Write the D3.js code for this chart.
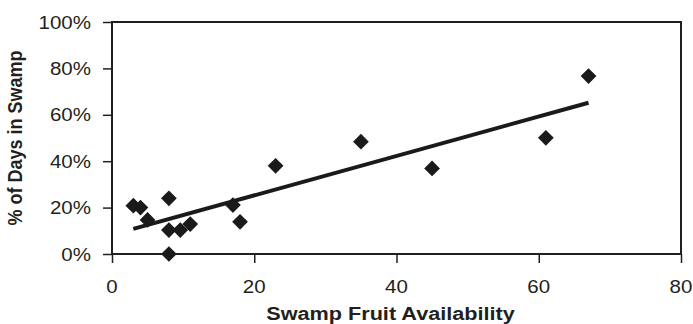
<!DOCTYPE html>
<html>
<head>
<meta charset="utf-8">
<script src="https://cdn.jsdelivr.net/npm/d3@7"></script>
<style>
  html, body { margin: 0; padding: 0; background: #fff; }
  svg { display: block; }
  text { font-family: "Liberation Sans", Arial, sans-serif; fill: #231f20; }
</style>
</head>
<body>
<div id="chart"></div>
<script>
// fruit availability (x) and share of days spent in swamp (y, %)
const fruit = [3, 4, 5, 8, 8, 8, 9.6, 11, 17, 18, 23, 35, 45, 61, 67];
const swampDays = [20.8, 20, 14.7, 24, 10.3, 0, 10.3, 12.9, 21.1, 13.9, 38, 48.4, 36.9, 50.1, 76.7];
const xTicks = [0, 20, 40, 60, 80];
const yTicks = [0, 20, 40, 60, 80, 100];
const xTitle = 'Swamp Fruit Availability';
const yTitle = '% of Days in Swamp';

const width = 693;
const height = 324;
const margin = { top: 22, right: 12, bottom: 70, left: 112 };
const stretch = 1.14; // the source text is a bit wider than it is tall
const ink = '#231f20';

const svg = d3
  .select('#chart')
  .append('svg')
  .attr('width', width)
  .attr('height', height);

const x = d3
  .scaleLinear()
  .domain([0, 80])
  .range([margin.left, width - margin.right]);
const y = d3
  .scaleLinear()
  .domain([0, 100])
  .range([height - margin.bottom, margin.top]);

// plot frame
svg
  .append('rect')
  .attr('x', x(0))
  .attr('y', y(100))
  .attr('width', x(80) - x(0))
  .attr('height', y(0) - y(100))
  .attr('fill', 'none')
  .attr('stroke', ink)
  .attr('stroke-width', 2);

// tick marks only, labels drawn separately
const xAxis = svg
  .append('g')
  .attr('transform', `translate(0,${y(0)})`)
  .call(d3.axisBottom(x).tickValues(xTicks).tickSize(9).tickFormat(''));
const yAxis = svg
  .append('g')
  .attr('transform', `translate(${x(0)},0)`)
  .call(d3.axisLeft(y).tickValues(yTicks).tickSize(9).tickFormat(''));
[xAxis, yAxis].forEach((ax) => {
  ax.select('.domain').remove();
  ax.selectAll('line').attr('stroke', ink).attr('stroke-width', 1.5);
});

const label = (px, py, txt, anchor, size, weight) =>
  svg
    .append('g')
    .attr('transform', `translate(${px},${py}) scale(${stretch},1)`)
    .append('text')
    .attr('text-anchor', anchor)
    .style('font-size', size + 'px')
    .style('font-weight', weight)
    .text(txt);

xTicks.forEach((t) => label(x(t), 293, t, 'middle', 18, 'normal'));
yTicks.forEach((t) => label(x(0) - 21, y(t) + 6.5, t + '%', 'end', 18, 'normal'));

label((x(0) + x(80)) / 2 - 6, 320, xTitle, 'middle', 19, 'bold');

svg
  .append('g')
  .attr('transform', `translate(22,${(y(0) + y(100)) / 2}) scale(${stretch},1) rotate(-90)`)
  .append('text')
  .attr('text-anchor', 'middle')
  .style('font-size', '18px')
  .style('font-weight', 'bold')
  .text(yTitle);

// least-squares trend line over the observed range
const mx = d3.mean(fruit);
const my = d3.mean(swampDays);
const sxy = d3.sum(fruit, (v, i) => (v - mx) * (swampDays[i] - my));
const sxx = d3.sum(fruit, (v) => (v - mx) ** 2);
const slope = sxy / sxx;
const intercept = my - slope * mx;
const ends = d3.extent(fruit);

svg
  .append('path')
  .datum(ends)
  .attr('fill', 'none')
  .attr('stroke', '#1a1a1a')
  .attr('stroke-width', 4)
  .attr(
    'd',
    d3
      .line()
      .x((d) => x(d))
      .y((d) => y(intercept + slope * d))
  );

// diamond markers
svg
  .append('g')
  .selectAll('path')
  .data(fruit.map((v, i) => [v, swampDays[i]]))
  .join('path')
  .attr('transform', (d) => `translate(${x(d[0])},${y(d[1])}) rotate(45)`)
  .attr('d', d3.symbol().type(d3.symbolSquare).size(124))
  .attr('fill', '#1a1a1a');
</script>
</body>
</html>
